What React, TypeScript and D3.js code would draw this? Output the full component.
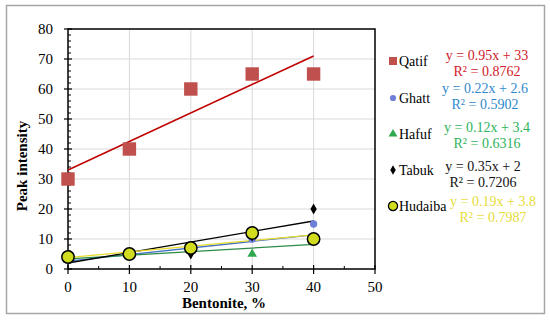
import * as d3 from 'd3'

const W = 550
const H = 323
const ML = 68
const MT = 29
const PW = 307
const PH = 240

const bentonite = [0, 10, 20, 30, 40]
const seriesNames = ['Qatif', 'Ghatt', 'Hafuf', 'Tabuk', 'Hudaiba']
const qatif = [30, 40, 60, 65, 65]
const ghatt = [3, 5, 7, 10, 15]
const hafuf = [3, 5, 6, 5, 10]
const tabuk = [4, 5, 5, 11, 20]
const hudaiba = [4, 5, 7, 12, 10]
const slopes = [0.95, 0.22, 0.12, 0.35, 0.19]
const intercepts = [33, 2.6, 3.4, 2, 3.8]
const r2 = ['0.8762', '0.5902', '0.6316', '0.7206', '0.7987']
const xTicks = [0, 10, 20, 30, 40, 50]
const yTicks = [0, 10, 20, 30, 40, 50, 60, 70, 80]

const values = [qatif, ghatt, hafuf, tabuk, hudaiba]
const markerFill = ['#c0504d', '#6f7fd8', '#2fa84f', '#000000', '#d2dc1e']
const lineColor = ['#c00000', '#4472c4', '#2e8b47', '#000000', '#e8dc30']
const eqColor = ['#d0202a', '#2f88cc', '#2db35a', '#111111', '#e6dc3a']
const symbolType = [d3.symbolSquare, d3.symbolCircle, d3.symbolTriangle, d3.symbolDiamond, d3.symbolCircle]
const plotSize = [180, 42, 40, 34, 120]
const legendSize = [64, 30, 34, 26, 66]
const legendRow = [66, 103, 139, 175, 211]
const eqRow = [60, 93, 132, 171, 206]
const eqX = [487, 485, 487, 483, 493]

const FONT = 'Liberation Serif'

export default function App() {
  const x = d3.scaleLinear().domain([0, 50]).range([ML, ML + PW])
  const y = d3.scaleLinear().domain([0, 80]).range([MT + PH, MT])
  const xMinor = d3.range(5, 50, 10)
  const yMinor = d3.range(0, 80, 2).filter((v) => v % 10 !== 0)

  return (
    <svg width={W} height={H} style={{ position: 'fixed', left: 0, top: 0, background: '#fff' }}>
      {/* outer frame */}
      <rect x={6.5} y={5.5} width={538} height={308} fill="#fff" stroke="#a6a6a6" strokeWidth={1.5} />

      {/* grid */}
      {yTicks.slice(1, -1).map((t) => (
        <line key={'gy' + t} x1={ML} x2={ML + PW} y1={y(t)} y2={y(t)} stroke="#d9d9d9" strokeWidth={1} />
      ))}
      {xTicks.slice(1, -1).map((t) => (
        <line key={'gx' + t} x1={x(t)} x2={x(t)} y1={MT} y2={MT + PH} stroke="#d9d9d9" strokeWidth={1} />
      ))}

      {/* plot frame */}
      <rect x={ML} y={MT} width={PW} height={PH} fill="none" stroke="#000" strokeWidth={1.5} />

      {/* ticks */}
      {yTicks.map((t) => (
        <line key={'ty' + t} x1={ML - 4} x2={ML + 4} y1={y(t)} y2={y(t)} stroke="#000" strokeWidth={1.2} />
      ))}
      {yMinor.map((t) => (
        <line key={'my' + t} x1={ML} x2={ML + 3} y1={y(t)} y2={y(t)} stroke="#000" strokeWidth={1} />
      ))}
      {xTicks.map((t) => (
        <line key={'tx' + t} x1={x(t)} x2={x(t)} y1={MT + PH - 4} y2={MT + PH + 5} stroke="#000" strokeWidth={1.2} />
      ))}
      {xMinor.map((t) => (
        <line key={'mx' + t} x1={x(t)} x2={x(t)} y1={MT + PH - 3} y2={MT + PH} stroke="#000" strokeWidth={1} />
      ))}

      {/* tick labels */}
      {yTicks.map((t) => (
        <text key={'ly' + t} x={ML - 15} y={y(t) + 5} textAnchor="end" fontFamily={FONT} fontSize={15} fill="#000">
          {t}
        </text>
      ))}
      {xTicks.map((t) => (
        <text key={'lx' + t} x={x(t)} y={292} textAnchor="middle" fontFamily={FONT} fontSize={15} fill="#000">
          {t}
        </text>
      ))}

      {/* axis titles */}
      <text x={224} y={308} textAnchor="middle" fontFamily={FONT} fontSize={15} fontWeight="bold">
        Bentonite, %
      </text>
      <text
        transform={`translate(27,166) rotate(-90)`}
        textAnchor="middle"
        fontFamily={FONT}
        fontSize={15}
        fontWeight="bold"
      >
        Peak intensity
      </text>

      {/* trend lines */}
      {seriesNames.map((name, i) => (
        <line
          key={'tr' + name}
          x1={x(0)}
          x2={x(40)}
          y1={y(intercepts[i])}
          y2={y(slopes[i] * 40 + intercepts[i])}
          stroke={lineColor[i]}
          strokeWidth={i === 0 ? 1.6 : 1.3}
        />
      ))}

      {/* markers */}
      {seriesNames.map((name, i) => {
        const sym = d3.symbol(symbolType[i], plotSize[i])()
        return (
          <g key={'m' + name}>
            {values[i].map((v, j) => (
              <path
                key={j}
                d={sym ?? ''}
                transform={`translate(${x(bentonite[j])},${y(v)})`}
                fill={markerFill[i]}
                stroke={i === 4 ? '#000' : 'none'}
                strokeWidth={i === 4 ? 1.5 : 0}
              />
            ))}
          </g>
        )
      })}

      {/* legend */}
      {seriesNames.map((name, i) => {
        const sym = d3.symbol(symbolType[i], legendSize[i])()
        return (
          <g key={'lg' + name}>
            <path
              d={sym ?? ''}
              transform={`translate(393,${legendRow[i] - 5})`}
              fill={markerFill[i]}
              stroke={i === 4 ? '#000' : 'none'}
              strokeWidth={i === 4 ? 1.3 : 0}
            />
            <text x={399} y={legendRow[i]} fontFamily={FONT} fontSize={14} fill="#000">
              {name}
            </text>
            <text x={eqX[i]} y={eqRow[i]} textAnchor="middle" fontFamily={FONT} fontSize={14} fill={eqColor[i]}>
              {`y = ${slopes[i]}x + ${intercepts[i]}`}
            </text>
            <text x={eqX[i]} y={eqRow[i] + 16} textAnchor="middle" fontFamily={FONT} fontSize={14} fill={eqColor[i]}>
              {`R² = ${r2[i]}`}
            </text>
          </g>
        )
      })}
    </svg>
  )
}
